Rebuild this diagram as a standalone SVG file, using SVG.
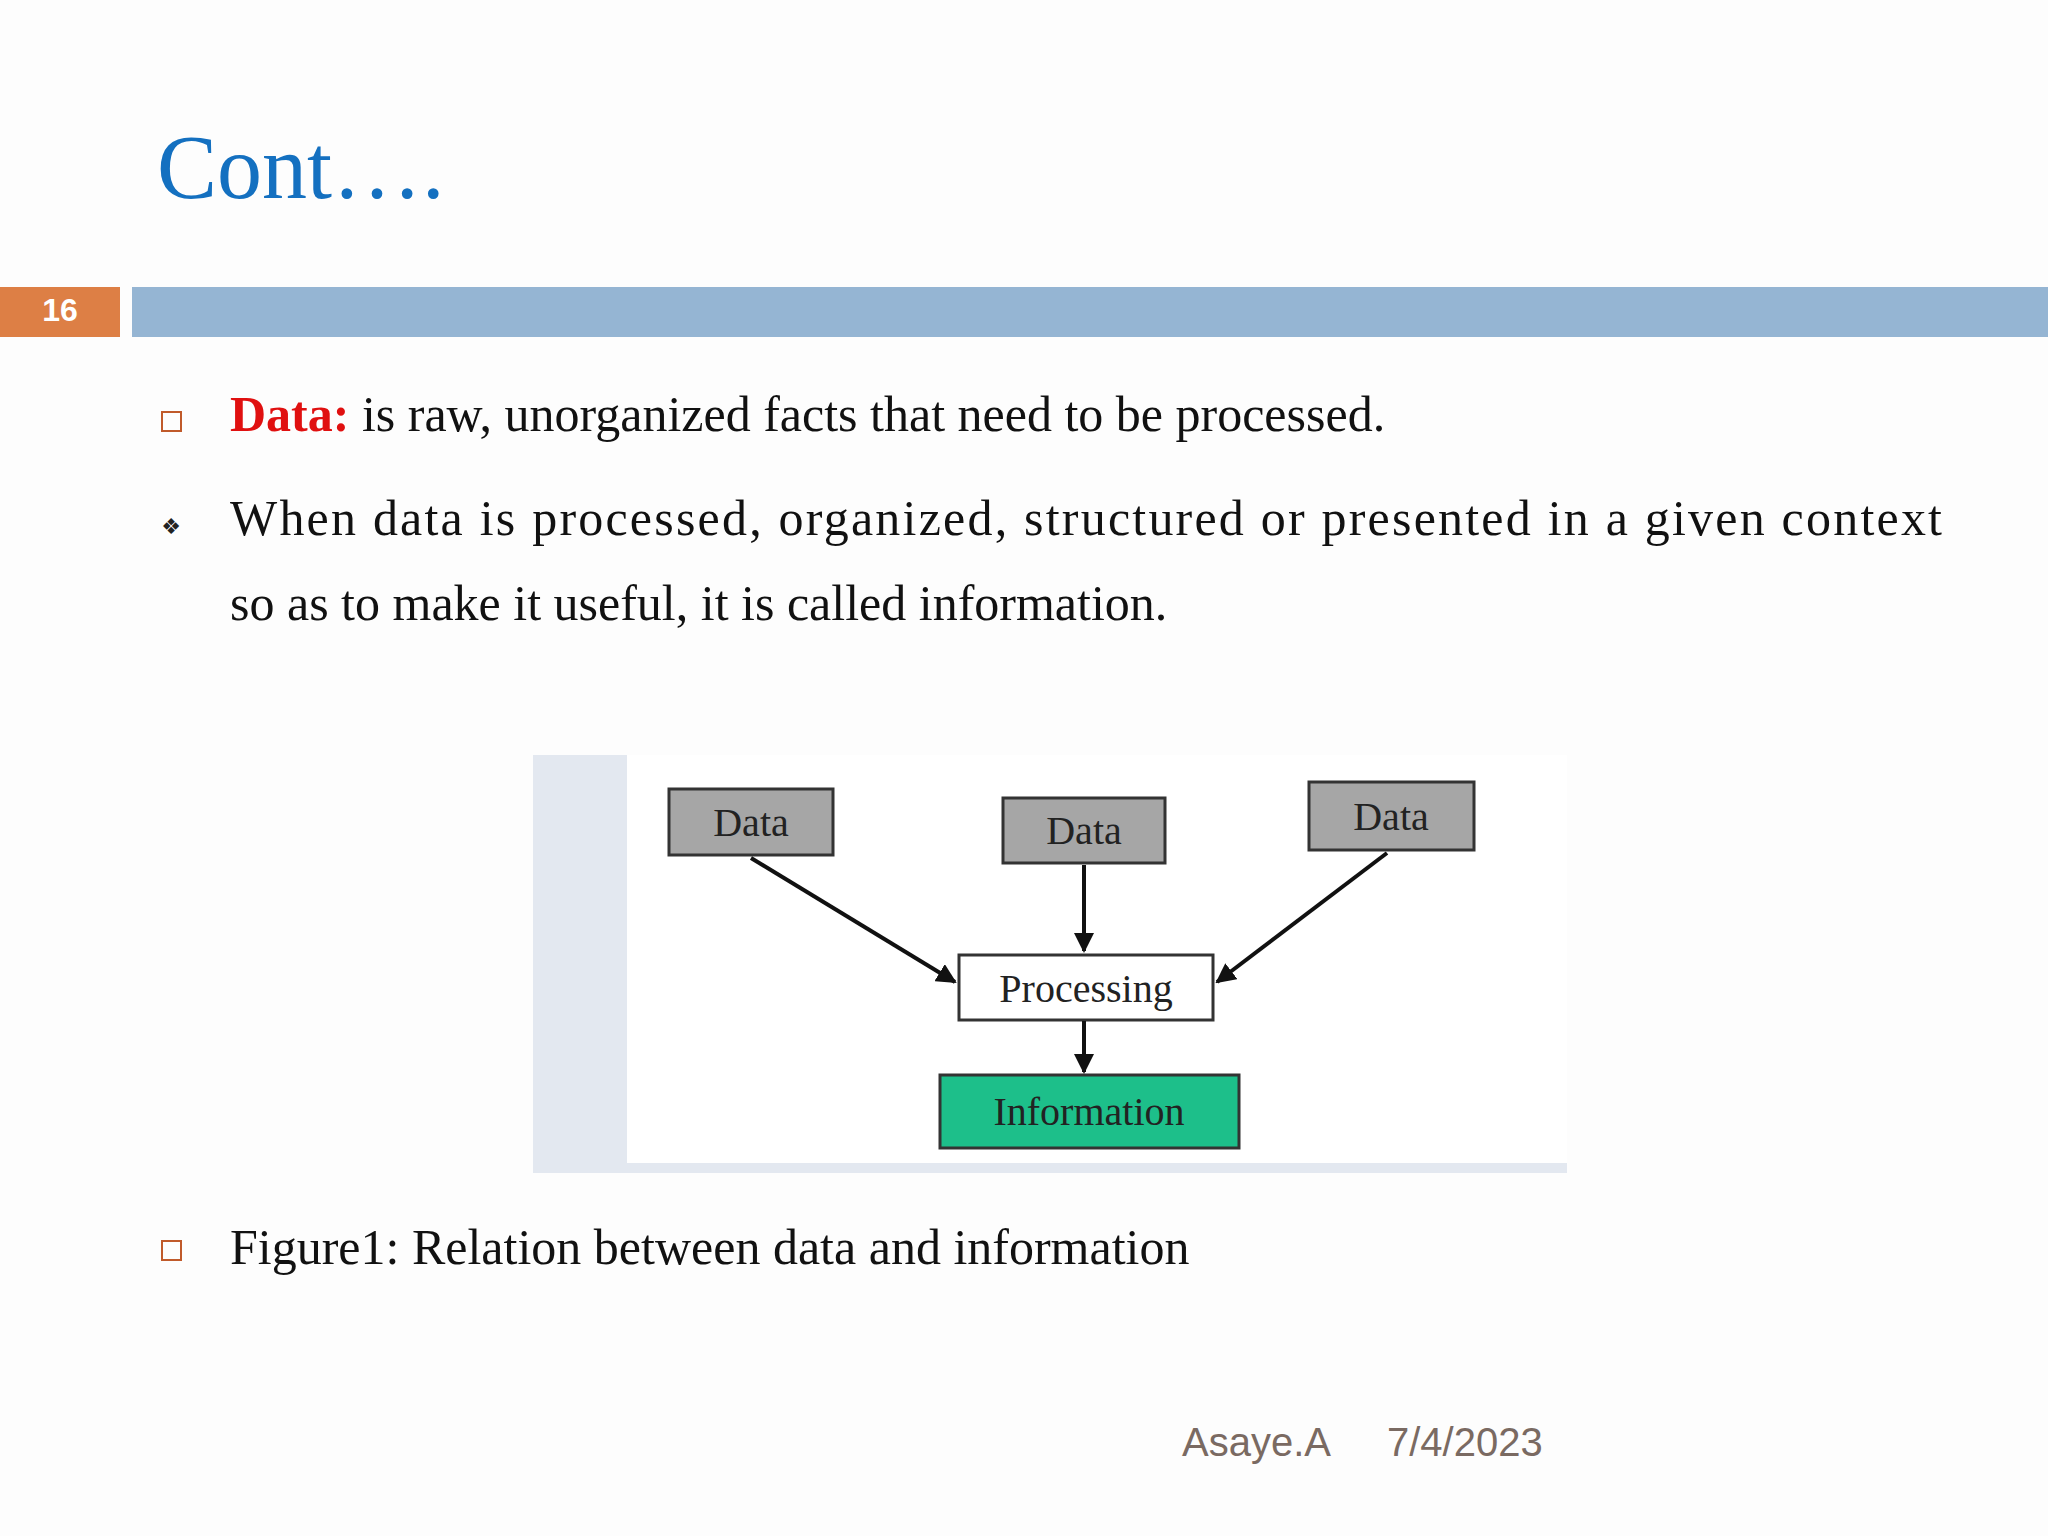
<svg xmlns="http://www.w3.org/2000/svg" width="2048" height="1536" viewBox="0 0 2048 1536">
<defs>
<style>
.serif{font-family:"Liberation Serif","Times New Roman",serif;fill:#111}
.box{stroke:#333;stroke-width:3}
.lbl{font-family:"Liberation Serif",serif;font-size:40px;fill:#222;text-anchor:middle}
.foot{font-family:"Liberation Sans",Arial,sans-serif;font-size:40px;fill:#7a6a62}
.con{stroke:#111;stroke-width:4;fill:none;marker-end:url(#ah)}
</style>
<marker id="ah" viewBox="0 0 10 10" refX="9" refY="5" markerWidth="5" markerHeight="5" orient="auto"><path d="M0,0L10,5L0,10z" fill="#111"/></marker>
</defs>
<rect width="2048" height="1536" fill="#fdfdfd"/>
<text x="157" y="198" font-family="Liberation Serif,serif" font-size="90" fill="#1470c0">Cont….</text>
<rect x="0" y="287" width="120" height="50" fill="#dd7f45"/>
<text x="60" y="321" font-family="Liberation Sans,Arial,sans-serif" font-size="32" font-weight="bold" fill="#fff" text-anchor="middle">16</text>
<rect x="132" y="287" width="1916" height="50" fill="#95b5d3"/>
<rect x="162" y="412" width="19" height="19" fill="none" stroke="#c05a2a" stroke-width="2"/>
<text x="230" y="431" class="serif" font-size="50"><tspan fill="#e01010" font-weight="bold">Data:</tspan> is raw, unorganized facts that need to be processed.</text>
<text x="171" y="534" font-family="DejaVu Sans,sans-serif" font-size="22" fill="#222" text-anchor="middle">❖</text>
<text x="230" y="535" class="serif" font-size="50" textLength="1712" lengthAdjust="spacing">When data is processed, organized, structured or presented in a given context</text>
<text x="230" y="620" class="serif" font-size="50">so as to make it useful, it is called information.</text>
<g id="figure">
<rect x="533" y="755" width="1034" height="418" fill="#fff"/>
<rect x="533" y="755" width="94" height="418" fill="#e3e8f0"/>
<rect x="533" y="1163" width="1034" height="10" fill="#e3e8f0"/>
</g>
<g id="data1"><rect class="box" x="669" y="789" width="164" height="66" fill="#a6a6a6"/><text class="lbl" x="751" y="836">Data</text></g>
<g id="data2"><rect class="box" x="1003" y="798" width="162" height="65" fill="#a6a6a6"/><text class="lbl" x="1084" y="844">Data</text></g>
<g id="data3"><rect class="box" x="1309" y="782" width="165" height="68" fill="#a6a6a6"/><text class="lbl" x="1391" y="830">Data</text></g>
<g id="processing"><rect class="box" x="959" y="955" width="254" height="65" fill="#fff"/><text class="lbl" x="1086" y="1002">Processing</text></g>
<g id="information"><rect class="box" x="940" y="1075" width="299" height="73" fill="#1dbf8a"/><text class="lbl" x="1089" y="1125">Information</text></g>
<g id="connectors">
<line class="con" x1="751" y1="858" x2="955" y2="982"/>
<line class="con" x1="1084" y1="865" x2="1084" y2="951"/>
<line class="con" x1="1387" y1="853" x2="1217" y2="982"/>
<line class="con" x1="1084" y1="1021" x2="1084" y2="1072"/>
</g>
<rect x="162" y="1241" width="19" height="19" fill="none" stroke="#c05a2a" stroke-width="2"/>
<text x="230" y="1264" class="serif" font-size="50">Figure1: Relation between data and information</text>
<text x="1182" y="1456" class="foot">Asaye.A</text>
<text x="1387" y="1456" class="foot">7/4/2023</text>
</svg>
